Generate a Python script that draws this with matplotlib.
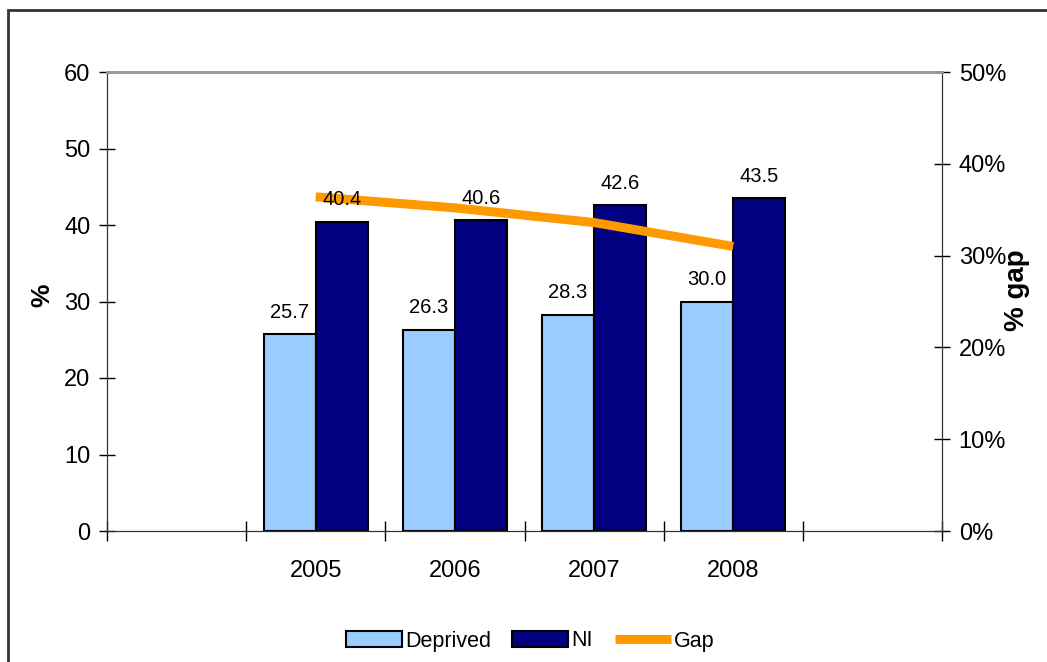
import numpy as np
import matplotlib.pyplot as plt
from matplotlib.patches import Rectangle
from matplotlib.ticker import PercentFormatter, FixedLocator

plt.rcParams['font.family'] = ['Liberation Sans', 'DejaVu Sans']

# categories (blank slots either side, as in the original sheet)
categories = ["", "2005", "2006", "2007", "2008", ""]
years = ["2005", "2006", "2007", "2008"]
deprived = [25.7, 26.3, 28.3, 30.0]
ni = [40.4, 40.6, 42.6, 43.5]
gap = [0.364, 0.352, 0.336, 0.310]

light_blue = "#99CCFF"
navy = "#000080"
orange = "#FF9900"

fig = plt.figure(figsize=(10.47, 6.62), dpi=100)
ax = fig.add_axes([107/1047, 1-531/662, (942-107)/1047, (531-72)/662])
ax2 = ax.twinx()

centers = np.array([categories.index(y) for y in years]) + 0.5
bw = 0.375

b1 = ax.bar(centers - bw/2, deprived, bw, color=light_blue, edgecolor="black", linewidth=1.5, label="Deprived", zorder=2)
b2 = ax.bar(centers + bw/2, ni, bw, color=navy, edgecolor="black", linewidth=1.5, label="NI", zorder=2)
ln, = ax2.plot(centers, gap, color=orange, lw=6.5, solid_capstyle="butt", label="Gap", zorder=2)

# data labels, drawn on ax2 so they sit over the gap line
for xs, vals in ((centers - bw/2, deprived), (centers + bw/2, ni)):
    for x, v in zip(xs, vals):
        ax2.annotate(f"{v:.1f}", xy=(x, v), xycoords=ax.transData,
                     xytext=(0, 9), textcoords="offset points",
                     ha="center", va="bottom", fontsize=14.5, zorder=5)

ax.set_xlim(0, len(categories))
ax.set_ylim(0, 60)
ax.set_yticks(range(0, 61, 10))
ax2.set_ylim(0, 0.5)
ax2.set_yticks(np.arange(0, 0.51, 0.1))
ax2.yaxis.set_major_formatter(PercentFormatter(1.0, decimals=0))

ax.set_xticks(np.arange(0, len(categories) + 1))
ax.set_xticklabels([])
ax.xaxis.set_minor_locator(FixedLocator(np.arange(len(categories)) + 0.5))
ax.set_xticklabels(categories, minor=True)
ax.tick_params(axis="x", which="minor", length=0, labelsize=17, pad=21)
ax.tick_params(axis="x", which="major", direction="inout", length=14, width=1)
ax.tick_params(axis="y", direction="inout", length=12, width=1, labelsize=17, pad=6)
ax2.tick_params(axis="y", direction="inout", length=12, width=1, labelsize=17, pad=6)

for a in (ax, ax2):
    a.spines["top"].set_color("#999999")
    a.spines["top"].set_linewidth(2)
    a.spines["left"].set_color("#333333")
    a.spines["right"].set_color("#333333")
    a.spines["bottom"].set_color("#333333")
ax2.patch.set_visible(False)

fig.text(42/1047, 1-295/662, "%", rotation=90, fontsize=19, fontweight="bold", ha="center", va="center")
fig.text(1017/1047, 1-290/662, "% gap", rotation=90, fontsize=20, fontweight="bold", ha="center", va="center")

fig.legend([b1, b2, ln], ["Deprived", "NI", "Gap"], loc="center", ncol=3,
           bbox_to_anchor=(530/1047, 1-641/662), frameon=False, fontsize=15.5,
           handlelength=2.6, handleheight=0.7, handletextpad=0.15, columnspacing=1.0)

# outer chart-area border (runs off the right and bottom edge)
fig.patches.append(Rectangle((8/1047, -0.1), 1.2, 1.1 - 10/662, transform=fig.transFigure,
                             fill=False, edgecolor="#333333", linewidth=2, clip_on=False))

fig.savefig("out.png", dpi=100)
